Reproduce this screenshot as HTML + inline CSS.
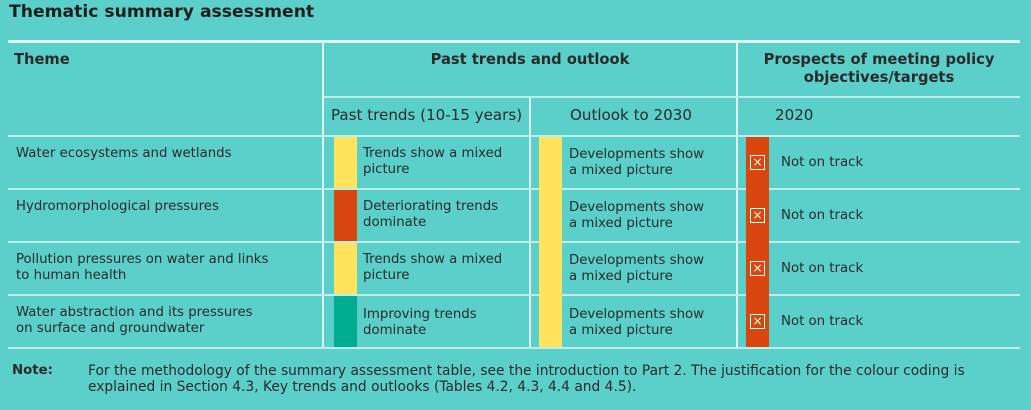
<!DOCTYPE html>
<html><head><style>
body{margin:0;width:1031px;height:410px;background:#5bd0cb;font-family:"DejaVu Sans",sans-serif;color:#2a2a2a;position:relative;overflow:hidden}
div{position:absolute;white-space:nowrap}
.h{height:2px;background:#dff5f3}
.hl{height:2px;background:#bfeeea}
.v{width:2px;background:#dff5f3}
.t{font-size:13.3px;line-height:16px}
.b{width:23px}
.x{width:13px;height:13px;border:1px solid #fff;color:#fff;font-size:12px;line-height:13px;text-align:center}
</style></head><body>
<div style="left:9px;top:2px;font-size:17.2px;font-weight:bold;color:#1e1e1e">Thematic summary assessment</div>
<div class="h" style="left:8px;top:40px;width:1012px;height:3px"></div>
<div class="v" style="left:322px;top:43px;height:305px"></div>
<div class="v" style="left:529px;top:97px;height:251px"></div>
<div class="v" style="left:736px;top:43px;height:305px"></div>
<div class="hl" style="left:324px;top:96px;width:696px"></div>
<div class="hl" style="left:8px;top:135px;width:1012px"></div>
<div class="hl" style="left:8px;top:188px;width:1012px"></div>
<div class="hl" style="left:8px;top:241px;width:1012px"></div>
<div class="hl" style="left:8px;top:294px;width:1012px"></div>
<div class="hl" style="left:8px;top:347px;width:1012px"></div>
<div style="left:14px;top:51px;font-size:14.7px;font-weight:bold">Theme</div>
<div style="left:324px;top:51px;width:412px;text-align:center;font-size:14.7px;font-weight:bold">Past trends and outlook</div>
<div style="left:738px;top:51px;width:282px;text-align:center;font-size:14.7px;font-weight:bold;line-height:18px">Prospects of meeting policy<br>objectives/targets</div>
<div style="left:331px;top:106px;font-size:15.1px">Past trends (10-15 years)</div>
<div style="left:570px;top:106px;font-size:15.1px">Outlook to 2030</div>
<div style="left:775px;top:106px;font-size:15.1px">2020</div>

<div class="t" style="left:16px;top:146px">Water ecosystems and wetlands</div>
<div class="t" style="left:16px;top:199px">Hydromorphological pressures</div>
<div class="t" style="left:16px;top:252px">Pollution pressures on water and links<br>to human health</div>
<div class="t" style="left:16px;top:305px">Water abstraction and its pressures<br>on surface and groundwater</div>

<div class="b" style="left:334px;top:137px;height:51px;background:#ffe35c"></div>
<div class="b" style="left:334px;top:190px;height:51px;background:#d9470e"></div>
<div class="b" style="left:334px;top:243px;height:51px;background:#ffe35c"></div>
<div class="b" style="left:334px;top:296px;height:51px;background:#00ad91"></div>
<div class="t" style="left:363px;top:146px">Trends show a mixed<br>picture</div>
<div class="t" style="left:363px;top:199px">Deteriorating trends<br>dominate</div>
<div class="t" style="left:363px;top:252px">Trends show a mixed<br>picture</div>
<div class="t" style="left:363px;top:307px">Improving trends<br>dominate</div>

<div class="b" style="left:539px;top:137px;height:210px;background:#ffe35c"></div>
<div class="t" style="left:569px;top:147px">Developments show<br>a mixed picture</div>
<div class="t" style="left:569px;top:200px">Developments show<br>a mixed picture</div>
<div class="t" style="left:569px;top:253px">Developments show<br>a mixed picture</div>
<div class="t" style="left:569px;top:307px">Developments show<br>a mixed picture</div>

<div class="b" style="left:746px;top:137px;height:210px;background:#d9470e"></div>
<div class="x" style="left:750px;top:155px">×</div>
<div class="x" style="left:750px;top:208px">×</div>
<div class="x" style="left:750px;top:261px">×</div>
<div class="x" style="left:750px;top:314px">×</div>
<div class="t" style="left:781px;top:155px">Not on track</div>
<div class="t" style="left:781px;top:208px">Not on track</div>
<div class="t" style="left:781px;top:261px">Not on track</div>
<div class="t" style="left:781px;top:314px">Not on track</div>

<div class="t" style="left:12px;top:363px;font-weight:bold">Note:</div>
<div class="t" style="left:88px;top:363px;font-size:13.8px">For the methodology of the summary assessment table, see the introduction to Part 2. The justification for the colour coding is<br>explained in Section 4.3, Key trends and outlooks (Tables 4.2, 4.3, 4.4 and 4.5).</div>
</body></html>
